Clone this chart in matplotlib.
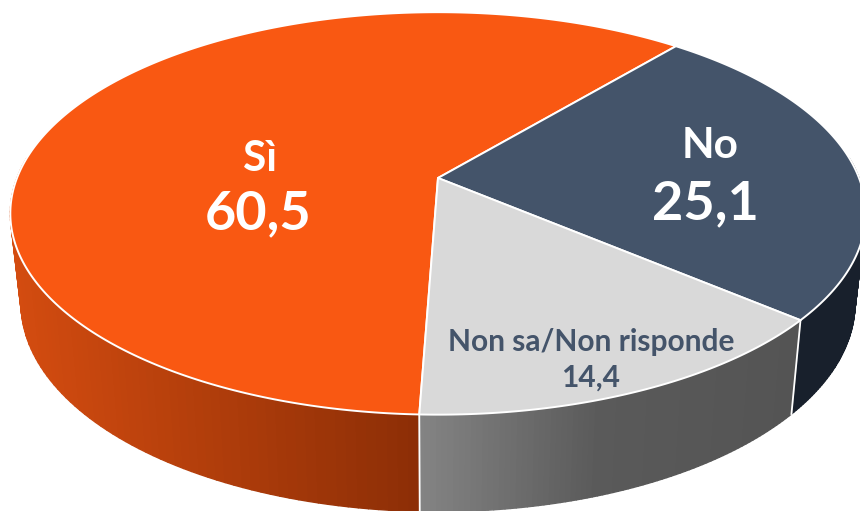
import numpy as np
import matplotlib
matplotlib.use("Agg")
import matplotlib.pyplot as plt
from matplotlib.collections import PolyCollection
from matplotlib.patches import Polygon

labels = ["Sì", "No", "Non sa/Non risponde"]
values = [60.5, 25.1, 14.4]
top_colors = ["#F95812", "#44546A", "#D9D9D9"]

# wall shading, left to right
wall_x = [[10, 420], [795, 860], [420, 600, 800]]
wall_rgb = [[(212, 76, 16), (140, 46, 6)],
            [(24, 32, 44), (24, 32, 44)],
            [(132, 132, 132), (90, 90, 90), (84, 84, 84)]]

# picture geometry of the tilted disc
cx, cy = 438, 178
b, a, k = 421, 195, 0.176
start = -92.1


def top(t):
    s, c = np.sin(t), np.cos(t)
    return cx + b * c / (1 + k * s), cy - a * s / (1 + k * s)


def bottom(t):
    x, y = top(t)
    return cx + (x - cx) * 0.975, y + 88 - 9 * np.sin(t)


def shade(x, i):
    rgb = np.array(wall_rgb[i]) / 255
    return [np.interp(x, wall_x[i], rgb[:, j]) for j in range(3)]


fig = plt.figure(figsize=(8.6, 5.11), dpi=100)
ax = fig.add_axes([0, 0, 1, 1])
ax.set_xlim(0, 860)
ax.set_ylim(511, 0)
ax.axis("off")

# slice order clockwise from the bottom: Sì, No, Non sa
angles = []
t0 = start
for v in values:
    t1 = t0 - v * 3.6
    angles.append((t0, t1))
    t0 = t1

# side walls of the front half
for i, (t0, t1) in enumerate(angles):
    d0, d1 = np.radians(t0), np.radians(t1)
    low, high = min(d0, d1), max(d0, d1)
    # keep only the part facing us
    parts = []
    for off in [0, -2 * np.pi, 2 * np.pi]:
        l, h = max(low + off, np.radians(-186)), min(high + off, np.radians(6))
        if h > l:
            parts.append((l, h))
    for l, h in parts:
        ts = np.linspace(l, h, 80)
        quads, cols = [], []
        for p, q in zip(ts[:-1], ts[1:]):
            xa, ya = top(p)
            xb, yb = top(q)
            xc, yc = bottom(q)
            xd, yd = bottom(p)
            quads.append([(xa, ya), (xb, yb), (xc, yc), (xd, yd)])
            cols.append(shade((xa + xb) / 2, i))
        ax.add_collection(PolyCollection(quads, facecolors=cols, edgecolors=cols, linewidths=1.0, zorder=2))

# white seams on the wall
for t in [angles[0][0], angles[2][0]]:
    d = np.radians(t)
    ax.plot(*zip(top(d), bottom(d)), color="white", lw=1.3, zorder=3)

# top face
for i, (t0, t1) in enumerate(angles):
    ts = np.radians(np.linspace(t0, t1, 300))
    x, y = top(ts)
    pts = np.column_stack([np.r_[cx, x], np.r_[cy, y]])
    ax.add_patch(Polygon(pts, closed=True, facecolor=top_colors[i], edgecolor="white",
                         linewidth=1.4, joinstyle="round", zorder=4))

font = "Lato"
ax.text(260, 159, labels[0], color="white", fontsize=30.5, fontweight="bold", family=font, ha="center", va="center", zorder=5)
ax.text(258, 214, f"{values[0]}".replace(".", ","), color="white", fontsize=39, fontweight="bold", family=font, ha="center", va="center", zorder=5)
ax.text(710, 146, labels[1], color="white", fontsize=30.5, fontweight="bold", family=font, ha="center", va="center", zorder=5)
ax.text(705, 204, f"{values[1]}".replace(".", ","), color="white", fontsize=39, fontweight="bold", family=font, ha="center", va="center", zorder=5)
ax.text(591, 342, labels[2], color="#44546A", fontsize=21.5, fontweight="bold", family=font, ha="center", va="center", zorder=5)
ax.text(591, 378, f"{values[2]}".replace(".", ","), color="#44546A", fontsize=21.5, fontweight="bold", family=font, ha="center", va="center", zorder=5)

fig.savefig("out.png", dpi=100, facecolor="white")
